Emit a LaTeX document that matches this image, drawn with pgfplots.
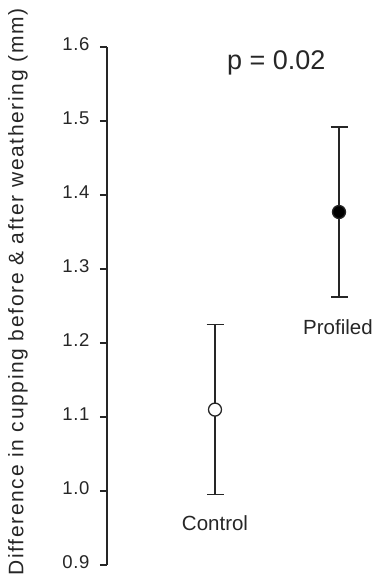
\documentclass[border=0pt]{standalone}
\usepackage{pgfplots}
\pgfplotsset{compat=1.18}
\usepackage{fontspec}
\setmainfont{Liberation Sans}
\newfontfamily\spacedfont[LetterSpace=8]{Liberation Sans}
\newfontfamily\tickfont[LetterSpace=4]{Liberation Sans}
\definecolor{ink}{gray}{0.15}
\begin{document}
\begin{tikzpicture}
\useasboundingbox (0,0) rectangle (372pt,586pt);
\begin{axis}[
  at={(107pt,21pt)}, anchor=south west,
  scale only axis, width=263pt, height=518pt,
  xmin=0.129, xmax=2.25, ymin=0.9, ymax=1.6,
  hide x axis,
  axis y line*=left,
  axis line style={line width=1.3pt, ink},
  ytick={0.9,1.0,1.1,1.2,1.3,1.4,1.5,1.6},
  tick align=outside, major tick length=7pt,
  every tick/.style={line width=1.3pt, ink},
  yticklabel style={font=\fontsize{18.5}{20}\tickfont, text=ink, xshift=-7pt, yshift=3pt,
    /pgf/number format/.cd, fixed, fixed zerofill, precision=1, assume math mode=true},
  clip=false,
]
\addplot[only marks, mark=*, mark size=6.5pt,
  mark options={fill=white, draw=ink, line width=1.3pt},
  error bars/.cd, y dir=both, y explicit,
  error bar style={line width=1.3pt, ink},
  error mark options={rotate=90, mark size=8.5pt, line width=1.3pt, ink}]
  coordinates {(1,1.11) +- (0,0.115)};
\addplot[only marks, mark=*, mark size=6.5pt,
  mark options={fill=black, draw=ink, line width=1.3pt},
  error bars/.cd, y dir=both, y explicit,
  error bar style={line width=1.3pt, ink},
  error mark options={rotate=90, mark size=8.5pt, line width=1.3pt, ink}]
  coordinates {(2,1.377) +- (0,0.115)};
\node[font=\fontsize{20.5}{24}\selectfont, text=ink] at (axis cs:1,0.995) [yshift=-28pt] {Control};
\node[font=\fontsize{20.5}{24}\selectfont, text=ink] at (axis cs:2,1.262) [yshift=-30pt, xshift=-1pt] {Profiled};
\end{axis}
\node[anchor=base west, font=\fontsize{27}{30}\selectfont, text=ink, inner sep=0pt] at (227pt,516pt) {p = 0.02};
\node[rotate=90, font=\fontsize{21}{24}\spacedfont, text=ink] at (18pt,294pt) {Difference in cupping before \& after weathering (mm)};
\end{tikzpicture}
\end{document}
